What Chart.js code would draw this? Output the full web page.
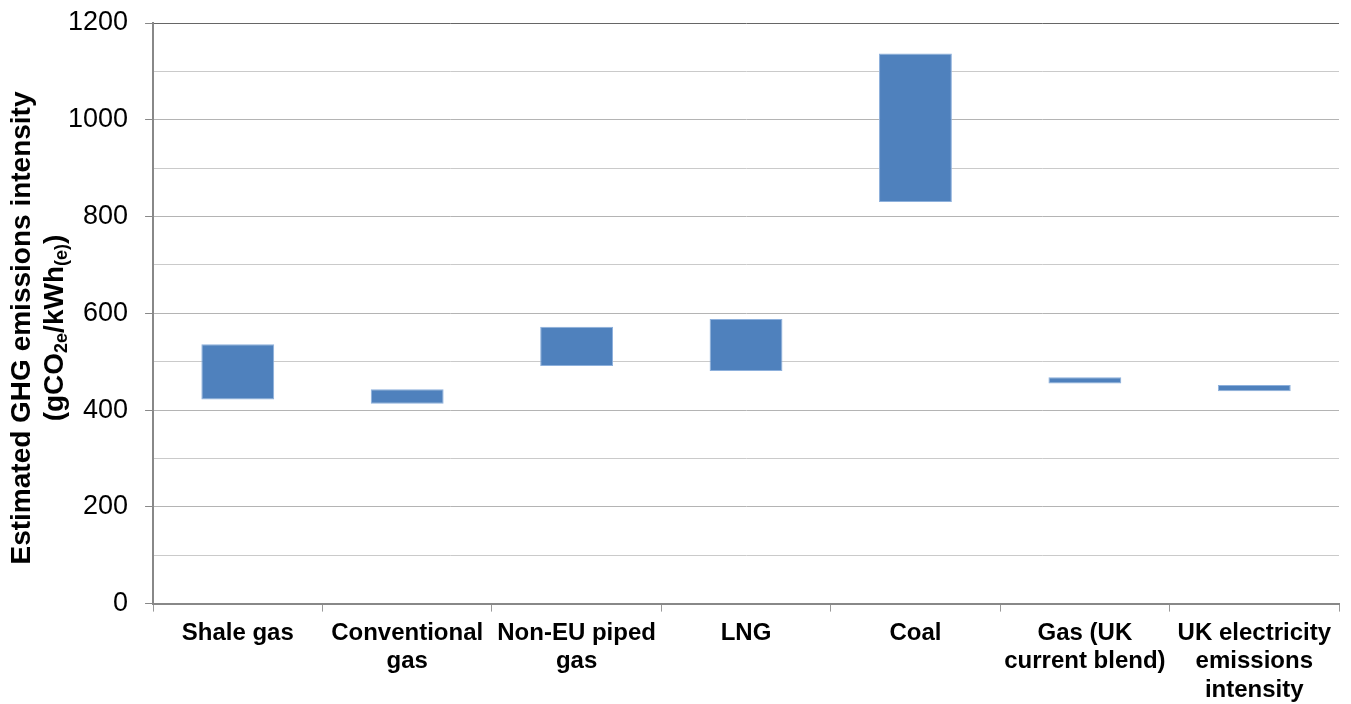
<!DOCTYPE html>
<html>
<head>
<meta charset="utf-8">
<script src="https://cdn.jsdelivr.net/npm/chart.js@4.4.1/dist/chart.umd.min.js"></script>
<style>
    html, body { margin: 0; padding: 0; background: #fff; }
    #wrap { width: 1351px; height: 704px; }
</style>
</head>
<body>
<div id="wrap"><canvas id="ghgChart"></canvas></div>
<script>
// categories, range low / high per category (gCO2e/kWh)
const categories = [
    ["Shale gas"],
    ["Conventional", "gas"],
    ["Non-EU piped", "gas"],
    ["LNG"],
    ["Coal"],
    ["Gas (UK", "current blend)"],
    ["UK electricity", "emissions", "intensity"]
];
const lowValues = [422, 413, 491, 481, 830, 455, 439];
const highValues = [536, 443, 572, 588, 1137, 468, 452];
const yTicks = [0, 200, 400, 600, 800, 1000, 1200];

const FONT = "'Liberation Sans', Arial, sans-serif";

// y axis title with subscripts, drawn by hand
const yTitlePlugin = {
    id: "yTitle",
    afterDraw(chart) {
        const ctx = chart.ctx;
        const cy = 328;
        ctx.save();
        ctx.fillStyle = "#000";
        ctx.textBaseline = "middle";

        // line 1
        ctx.save();
        ctx.translate(22, cy);
        ctx.rotate(-Math.PI / 2);
        ctx.font = "bold 28px " + FONT;
        ctx.textAlign = "center";
        ctx.fillText("Estimated GHG emissions intensity", 0, 0);
        ctx.restore();

        // line 2 with subscripts
        const parts = [
            { t: "(gCO", sub: false },
            { t: "2e", sub: true },
            { t: "/kWh", sub: false },
            { t: "(e)", sub: true },
            { t: ")", sub: false }
        ];
        const big = "bold 28px " + FONT, small = "bold 18px " + FONT;
        let total = 0;
        parts.forEach(p => {
            ctx.font = p.sub ? small : big;
            p.w = ctx.measureText(p.t).width;
            total += p.w;
        });
        ctx.save();
        ctx.translate(55, cy);
        ctx.rotate(-Math.PI / 2);
        ctx.textAlign = "left";
        let x = -total / 2;
        parts.forEach(p => {
            ctx.font = p.sub ? small : big;
            ctx.fillText(p.t, x, p.sub ? 7 : 0);
            x += p.w;
        });
        ctx.restore();
        ctx.restore();
    }
};

const ctx = document.getElementById("ghgChart").getContext("2d");
new Chart(ctx, {
    type: "bar",
    data: {
        labels: categories,
        datasets: [{
            data: lowValues.map((lo, i) => [lo, highValues[i]]),
            backgroundColor: "#4F81BD",
            borderColor: "#8db0dc",
            borderWidth: 1,
            borderSkipped: false,
            barPercentage: 0.43,
            categoryPercentage: 1
        }]
    },
    options: {
        responsive: true,
        maintainAspectRatio: false,
        animation: false,
        layout: { padding: { left: 51, right: 12, top: 23, bottom: -8 } },
        plugins: {
            legend: { display: false },
            tooltip: { enabled: false }
        },
        scales: {
            x: {
                grid: {
                    offset: true,
                    drawOnChartArea: true,
                    color: c => c.index === categories.length ? "#999" : "rgba(0,0,0,0)",
                    tickColor: "#999",
                    tickLength: 8,
                    lineWidth: 1
                },
                border: { color: "#888", width: 2 },
                ticks: {
                    color: "#000",
                    padding: 7,
                    maxRotation: 0,
                    autoSkip: false,
                    font: { family: FONT, size: 24, weight: "bold", lineHeight: 1.2 }
                }
            },
            y: {
                min: 0,
                max: 1200,
                afterBuildTicks: axis => {
                    const t = [];
                    for (let v = 0; v <= 1200; v += 100) t.push({ value: v });
                    axis.ticks = t;
                },
                afterFit: axis => { axis.paddingTop = 0; },
                grid: {
                    color: c => c.tick && c.tick.value === 1200 ? "#666" :
                        (c.tick && c.tick.value % 200 === 0 ? "#b4b4b4" : "#cacaca"),
                    tickColor: c => c.tick && yTicks.includes(c.tick.value) ? "#888" : "rgba(0,0,0,0)",
                    tickLength: 8,
                    lineWidth: 1
                },
                border: { color: "#888", width: 2 },
                ticks: {
                    color: "#000",
                    padding: 17,
                    autoSkip: false,
                    font: { family: FONT, size: 27 },
                    callback: v => yTicks.includes(v) ? String(v) : ""
                }
            }
        }
    },
    plugins: [yTitlePlugin]
});
</script>
</body>
</html>
